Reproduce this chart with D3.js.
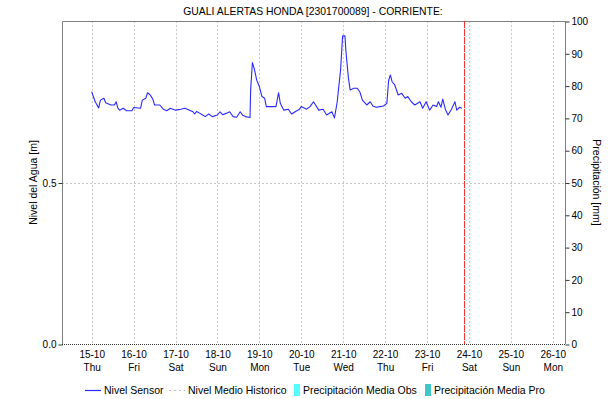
<!DOCTYPE html>
<html>
<head>
<meta charset="utf-8">
<script src="https://cdn.jsdelivr.net/npm/d3@7"></script>
<style>
  html, body { margin: 0; padding: 0; background: #fff; }
  svg { display: block; font-family: "Liberation Sans", Arial, sans-serif; }
</style>
</head>
<body>
<svg id="chart" width="613" height="399"></svg>
<script>
// Nivel Sensor readings (m)
const sensorTimes = [
  "2020-10-15 00:00","2020-10-15 02:00","2020-10-15 04:00","2020-10-15 05:00","2020-10-15 07:00",
  "2020-10-15 08:00","2020-10-15 11:00","2020-10-15 13:00","2020-10-15 14:00","2020-10-15 15:00",
  "2020-10-15 16:00","2020-10-15 18:00","2020-10-15 20:00","2020-10-15 23:00","2020-10-16 00:00",
  "2020-10-16 04:00","2020-10-16 05:00","2020-10-16 07:00","2020-10-16 08:00","2020-10-16 09:30",
  "2020-10-16 11:00","2020-10-16 12:00","2020-10-16 15:00","2020-10-16 17:00","2020-10-16 19:00",
  "2020-10-16 21:00","2020-10-17 00:00","2020-10-17 03:00","2020-10-17 05:30","2020-10-17 08:00",
  "2020-10-17 10:00","2020-10-17 11:00","2020-10-17 12:00","2020-10-17 14:00","2020-10-17 15:30",
  "2020-10-17 17:00","2020-10-17 19:00","2020-10-17 21:00","2020-10-18 00:00",
  "2020-10-18 01:30","2020-10-18 03:00","2020-10-18 05:00","2020-10-18 07:00","2020-10-18 09:00","2020-10-18 11:00",
  "2020-10-18 13:00","2020-10-18 14:30","2020-10-18 16:00","2020-10-18 18:40","2020-10-18 19:00","2020-10-18 20:00",
  "2020-10-18 21:00","2020-10-18 22:30","2020-10-19 00:00","2020-10-19 01:30","2020-10-19 03:00",
  "2020-10-19 04:00","2020-10-19 07:00","2020-10-19 09:30","2020-10-19 11:00","2020-10-19 12:00",
  "2020-10-19 14:00","2020-10-19 16:30","2020-10-19 18:30","2020-10-19 20:30","2020-10-19 23:00",
  "2020-10-20 00:00","2020-10-20 03:00","2020-10-20 05:00","2020-10-20 07:00","2020-10-20 10:00",
  "2020-10-20 12:30","2020-10-20 14:30","2020-10-20 17:30","2020-10-20 19:00","2020-10-20 20:30",
  "2020-10-20 22:30","2020-10-20 23:40","2020-10-21 01:00","2020-10-21 01:30","2020-10-21 03:00",
  "2020-10-21 04:00","2020-10-21 06:00","2020-10-21 08:00","2020-10-21 09:30","2020-10-21 11:00",
  "2020-10-21 13:30","2020-10-21 15:30","2020-10-21 17:00","2020-10-21 19:00","2020-10-21 21:00",
  "2020-10-21 23:00","2020-10-22 01:00","2020-10-22 02:00","2020-10-22 03:00","2020-10-22 04:00",
  "2020-10-22 05:30","2020-10-22 07:30","2020-10-22 09:30","2020-10-22 11:30","2020-10-22 13:00",
  "2020-10-22 15:00","2020-10-22 17:00","2020-10-22 20:00","2020-10-22 21:30","2020-10-22 23:30",
  "2020-10-23 01:30","2020-10-23 03:30","2020-10-23 05:30","2020-10-23 06:30","2020-10-23 08:00",
  "2020-10-23 09:00","2020-10-23 10:30","2020-10-23 12:00","2020-10-23 14:00","2020-10-23 16:00",
  "2020-10-23 17:00","2020-10-23 18:40","2020-10-23 20:00"
];
const sensorLevels = [
  0.781,0.750,0.731,0.755,0.761,
  0.747,0.740,0.740,0.750,0.730,
  0.724,0.730,0.722,0.722,0.732,
  0.730,0.755,0.761,0.778,0.771,
  0.758,0.740,0.740,0.727,0.722,
  0.730,0.724,0.727,0.730,0.724,
  0.719,0.712,0.720,0.714,0.709,
  0.704,0.712,0.704,0.709,
  0.719,0.710,0.714,0.719,0.704,0.702,
  0.719,0.708,0.704,0.701,0.786,0.871,
  0.854,0.817,0.797,0.766,0.761,
  0.735,0.735,0.735,0.778,0.745,
  0.724,0.727,0.712,0.719,0.727,
  0.735,0.727,0.735,0.750,0.724,
  0.727,0.709,0.719,0.700,0.747,
  0.848,0.954,0.954,0.910,0.823,
  0.786,0.792,0.792,0.781,0.755,
  0.740,0.750,0.737,0.733,0.735,
  0.737,0.745,0.815,0.833,0.812,
  0.802,0.771,0.776,0.761,0.766,
  0.750,0.740,0.750,0.730,0.750,
  0.724,0.740,0.735,0.750,0.733,
  0.758,0.727,0.709,0.727,0.750,
  0.724,0.733,0.730
];

// Current time marker
const nowTime = "2020-10-23 21:00";

// Axis ticks and labels
const dayTicks = ["2020-10-15","2020-10-16","2020-10-17","2020-10-18","2020-10-19","2020-10-20",
                  "2020-10-21","2020-10-22","2020-10-23","2020-10-24","2020-10-25","2020-10-26"];
const dayLabels = ["15-10","16-10","17-10","18-10","19-10","20-10","21-10","22-10","23-10","24-10","25-10","26-10"];
const weekdayLabels = ["Thu","Fri","Sat","Sun","Mon","Tue","Wed","Thu","Fri","Sat","Sun","Mon"];
const levelTicks = [0.0, 0.5];
const precipTicks = [0,10,20,30,40,50,60,70,80,90,100];

// Legend entries
const legendLabels = ["Nivel Sensor","Nivel Medio Historico","Precipitación Media Obs","Precipitación Media Pro"];

const titleText = "GUALI ALERTAS HONDA [2301700089] - CORRIENTE:";

const parseTime = d3.timeParse("%Y-%m-%d %H:%M");
const parseDay = d3.timeParse("%Y-%m-%d");

const svg = d3.select("#chart");
const plotLeft = 62, plotRight = 565, plotTop = 21, plotBottom = 344;

const x = d3.scaleTime()
  .domain([parseTime("2020-10-14 07:00"), parseTime("2020-10-26 07:00")])
  .range([plotLeft, plotRight]);
const yLevel = d3.scaleLinear().domain([0, 1]).range([plotBottom, plotTop]);
const yPrecip = d3.scaleLinear().domain([0, 100]).range([plotBottom, plotTop]);

const gridColor = "#c8c8c8";
const frameColor = "#808080";

// Vertical day grid lines
svg.append("g").selectAll("line")
  .data(dayTicks.map(parseDay))
  .join("line")
  .attr("x1", d => Math.round(x(d)) + 0.5)
  .attr("x2", d => Math.round(x(d)) + 0.5)
  .attr("y1", plotTop).attr("y2", plotBottom)
  .attr("stroke", gridColor)
  .attr("stroke-dasharray", "2,2");

// Horizontal grid line at 0.5 m
svg.append("g").selectAll("line")
  .data(levelTicks.filter(v => v > 0))
  .join("line")
  .attr("x1", plotLeft).attr("x2", plotRight)
  .attr("y1", d => Math.round(yLevel(d)) + 0.5)
  .attr("y2", d => Math.round(yLevel(d)) + 0.5)
  .attr("stroke", gridColor)
  .attr("stroke-dasharray", "2,2");

// Frame: left, top and right sides
svg.append("path")
  .attr("d", `M${plotLeft + 0.5},${plotBottom} V${plotTop + 0.5} H${plotRight + 0.5} V${plotBottom}`)
  .attr("fill", "none")
  .attr("stroke", frameColor);

// Bottom axis: dotted baseline
svg.append("line")
  .attr("x1", plotLeft).attr("x2", plotRight + 1)
  .attr("y1", plotBottom + 0.5).attr("y2", plotBottom + 0.5)
  .attr("stroke", "#333")
  .attr("stroke-dasharray", "1,1");

// Sensor line
const line = d3.line()
  .x((d, i) => x(parseTime(sensorTimes[i])))
  .y(d => yLevel(d));
svg.append("path")
  .datum(sensorLevels)
  .attr("d", line)
  .attr("fill", "none")
  .attr("stroke", "#2a2aff")
  .attr("stroke-width", 1.1)
  .attr("stroke-linejoin", "round");

// Current time marker
svg.append("line")
  .attr("x1", Math.round(x(parseTime(nowTime))) + 0.5)
  .attr("x2", Math.round(x(parseTime(nowTime))) + 0.5)
  .attr("y1", plotTop).attr("y2", plotBottom)
  .attr("stroke", "#ff3030")
  .attr("stroke-width", 1)
  .attr("stroke-dasharray", "7,1");

// Left axis
const leftAxis = d3.axisLeft(yLevel)
  .tickValues(levelTicks)
  .tickFormat(d3.format(".1f"))
  .tickSize(4)
  .tickPadding(2);
const gl = svg.append("g").attr("transform", `translate(${plotLeft + 0.5},0.5)`).call(leftAxis);
gl.select(".domain").remove();
gl.selectAll(".tick line").attr("stroke", "#333");
gl.selectAll(".tick text").attr("font-size", 10).attr("fill", "#000")
  .attr("font-family", "Liberation Sans, Arial, sans-serif");

// Right axis
const rightAxis = d3.axisRight(yPrecip)
  .tickValues(precipTicks)
  .tickSize(4)
  .tickPadding(2);
const gr = svg.append("g").attr("transform", `translate(${plotRight + 0.5},0.5)`).call(rightAxis);
gr.select(".domain").remove();
gr.selectAll(".tick line").attr("stroke", "#333");
gr.selectAll(".tick text").attr("font-size", 10).attr("fill", "#000")
  .attr("font-family", "Liberation Sans, Arial, sans-serif");

// Bottom tick labels: date and weekday
const xLabels = svg.append("g").attr("font-size", 10).attr("fill", "#000").attr("text-anchor", "middle");
xLabels.selectAll("text.date")
  .data(dayTicks)
  .join("text")
  .attr("class", "date")
  .attr("x", d => x(parseDay(d)) + 0.5)
  .attr("y", 358)
  .text((d, i) => dayLabels[i]);
xLabels.selectAll("text.wd")
  .data(dayTicks)
  .join("text")
  .attr("class", "wd")
  .attr("x", d => x(parseDay(d)) + 0.5)
  .attr("y", 371)
  .text((d, i) => weekdayLabels[i]);

// Title
svg.append("text")
  .attr("x", 313).attr("y", 15)
  .attr("text-anchor", "middle")
  .attr("font-size", 10.4)
  .attr("fill", "#000")
  .text(titleText);

// Axis titles
svg.append("text")
  .attr("transform", `translate(37,${(plotTop + plotBottom) / 2}) rotate(-90)`)
  .attr("text-anchor", "middle")
  .attr("font-size", 10.5)
  .attr("fill", "#000")
  .text("Nivel del Agua [m]");
svg.append("text")
  .attr("transform", `translate(593,${(plotTop + plotBottom) / 2}) rotate(90)`)
  .attr("text-anchor", "middle")
  .attr("font-size", 10.5)
  .attr("fill", "#000")
  .text("Precipitación [mm]");

// Legend
const lg = svg.append("g").attr("font-size", 10.5).attr("fill", "#000");
const ly = 390;
lg.append("line").attr("x1", 85).attr("x2", 101).attr("y1", ly + 0.5).attr("y2", ly + 0.5)
  .attr("stroke", "#2a2aff").attr("stroke-width", 1.2);
lg.append("text").attr("x", 104).attr("y", ly + 4).text(legendLabels[0]);
lg.append("line").attr("x1", 169).attr("x2", 185).attr("y1", ly + 0.5).attr("y2", ly + 0.5)
  .attr("stroke", "#c0c0c0").attr("stroke-dasharray", "2,3");
lg.append("text").attr("x", 188).attr("y", ly + 4).text(legendLabels[1]);
lg.append("rect").attr("x", 294).attr("y", ly - 6).attr("width", 6).attr("height", 12)
  .attr("fill", "#55ffff");
lg.append("text").attr("x", 303).attr("y", ly + 4).text(legendLabels[2]);
lg.append("rect").attr("x", 425).attr("y", ly - 6).attr("width", 6).attr("height", 12)
  .attr("fill", "#40c8c8");
lg.append("text").attr("x", 434).attr("y", ly + 4).text(legendLabels[3]);
</script>
</body>
</html>
